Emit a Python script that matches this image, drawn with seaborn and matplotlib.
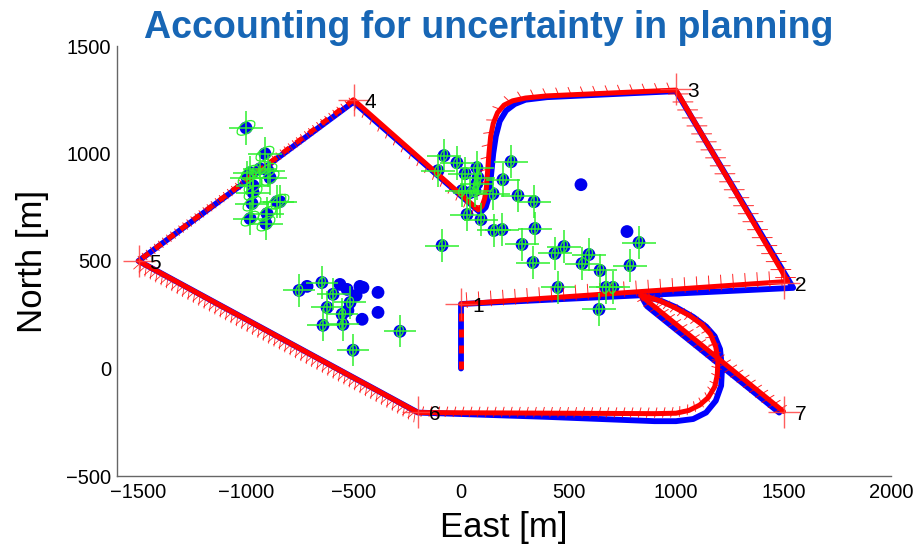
import numpy as np
import pandas as pd
import matplotlib
matplotlib.use('Agg')
import matplotlib.pyplot as plt
import matplotlib.patheffects as pe
from matplotlib.patches import Ellipse
import seaborn as sns

# %% Data (East / North in metres)

# planned path (red)
plan_e = [0, 0, 1520, 1000, 400, 300, 240, 200, 170, 150, 138, 130, 124, 118, 110, 98, 80,
          -500, -1500, -200, 900, 1000, 1060, 1110, 1150, 1180, 1192, 1195, 1185, 1160,
          1120, 1065, 990, 925, 870, 835, 1500]
plan_n = [0, 300, 405, 1295, 1268, 1258, 1245, 1225, 1190, 1140, 1080, 1000, 920, 840, 790, 755, 738,
          1250, 500, -205, -210, -208, -195, -170, -135, -85, -30, 38, 100, 160,
          205, 245, 285, 315, 333, 340, -200]

# flown path (blue)
flown_e = [0, 0, 1545, 1000, 400, 300, 250, 210, 180, 162, 150, 140, 130, 115, 90,
           -500, -1500, -200, 400, 900, 1000, 1080, 1140, 1185, 1210, 1214, 1205, 1180,
           1140, 1080, 1000, 930, 860, 845, 865, 1480]
flown_n = [0, 300, 375, 1290, 1262, 1250, 1230, 1200, 1150, 1080, 1000, 900, 800, 750, 725,
           1240, 500, -205, -225, -245, -245, -235, -205, -150, -80, 0, 90, 150,
           195, 240, 285, 315, 335, 325, 290, -205]

# waypoints
wp_label = ['1', '2', '3', '4', '5', '6', '7']
wp_e = [0, 1500, 1000, -500, -1500, -200, 1500]
wp_n = [300, 400, 1300, 1250, 500, -200, -200]

# landmarks - west cluster
west_e = [-1000, -912, -935, -898, -888, -981, -995, -967, -967, -972, -842, -856, -902, -981, -907]
west_n = [1119, 999, 929, 920, 887, 911, 887, 850, 818, 767, 776, 776, 720, 697, 674]
west_seen = [1] * 15

# landmarks - centre cluster
centre_e = [-79, -19, -107, 74, 19, 79, 74, 5, 42, 65, 149, 195, 233, 265, 340, 28, 93, 153,
            191, 344, -88, 284, 558, 335, 437, 479, 563, 595, 647, 451, 674, 707, 642, 772, 828, 786]
centre_n = [990, 957, 920, 934, 906, 887, 860, 827, 818, 827, 813, 878, 962, 804, 776, 716, 693, 642,
            646, 651, 572, 577, 855, 493, 535, 567, 488, 530, 456, 377, 377, 377, 275, 637, 586, 479]
centre_seen = [1, 1, 1, 1, 1, 1, 1, 1, 1, 1, 1, 1, 1, 1, 1, 1, 1, 1,
               1, 1, 1, 1, 0, 1, 1, 1, 1, 1, 1, 1, 1, 1, 1, 0, 1, 1]

# landmarks - south cluster
south_e = [-753, -716, -647, -563, -470, -456, -386, -595, -530, -488, -516, -623, -553, -526,
           -460, -386, -642, -549, -502, -284]
south_n = [363, 382, 400, 391, 382, 377, 354, 345, 368, 340, 307, 284, 252, 270,
           229, 261, 201, 205, 85, 173]
south_seen = [1, 0, 1, 0, 0, 0, 0, 1, 0, 0, 1, 1, 1, 0, 0, 0, 1, 1, 1, 1]

# landmark 1-sigma position error [m]
west_err = 78
centre_err = 78
south_err = 75

# %% Figure

sns.set_theme(style='white')
plt.rcParams['font.family'] = ['Liberation Sans', 'DejaVu Sans']
plt.rcParams['text.color'] = 'black'
plt.rcParams['axes.labelcolor'] = 'black'

fig = plt.figure(figsize=(9.19, 5.51), dpi=100)
ax = fig.add_axes([117 / 919, 1 - 476 / 551, 774 / 919, 430 / 551])

RED = '#ff0000'
BLUE = '#0000ff'
GREEN = '#2ef02e'

# landmarks
lm = pd.concat([
    pd.DataFrame({'e': west_e, 'n': west_n, 'seen': west_seen, 'err': west_err, 'grp': 'west'}),
    pd.DataFrame({'e': centre_e, 'n': centre_n, 'seen': centre_seen, 'err': centre_err, 'grp': 'centre'}),
    pd.DataFrame({'e': south_e, 'n': south_n, 'seen': south_seen, 'err': south_err, 'grp': 'south'}),
], ignore_index=True)

sns.scatterplot(data=lm, x='e', y='n', color='#0000ee', s=85, edgecolor='none',
                legend=False, ax=ax, zorder=2)

# flown path
sns.lineplot(x=flown_e, y=flown_n, sort=False, estimator=None, color=BLUE,
             lw=4.2, ax=ax, zorder=3, solid_joinstyle='round')

# planned path, dashed where the blue shows through
plan = pd.DataFrame({'e': plan_e, 'n': plan_n})
for seg, dashed in [(slice(0, 2), True), (slice(1, 18), False),
                    (slice(17, 19), True), (slice(18, 37), False)]:
    part = plan.iloc[seg]
    ax.plot(part.e, part.n, color=RED, lw=3.6, zorder=3.2,
            dashes=(1.6, 1.6) if dashed else (None, None),
            solid_capstyle='round', solid_joinstyle='round')

# covariance ellipses along the plan, drawn as ticks along the path
def cov_ticks(seg, spacing_px, specs, lw=0.7):
    effects = [pe.TickedStroke(spacing=spacing_px * 0.72, angle=a,
                               length=l / spacing_px, linewidth=lw)
               for a, l in specs]
    part = plan.iloc[seg]
    ax.plot(part.e, part.n, color=RED, lw=lw, alpha=0.85,
            path_effects=effects, zorder=3.1)

cov_ticks(slice(1, 3), 12, [(90, 11), (-90, 4)])
cov_ticks(slice(2, 4), 9, [(60, 10), (-120, 10)])
cov_ticks(slice(3, 17), 12, [(-70, 8)])
cov_ticks(slice(16, 18), 10, [(110, 8)])
cov_ticks(slice(17, 19), 5, [(90, 4), (-90, 4)])
cov_ticks(slice(18, 20), 6, [(-70, 11), (-110, 10)], lw=0.6)
cov_ticks(slice(19, 36), 8, [(75, 6), (-105, 4)])
cov_ticks(slice(35, 37), 8, [(70, 7), (-110, 7)])

# landmark uncertainty crosses and ellipses
seen = lm[lm.seen == 1]
ax.errorbar(seen.e, seen.n, xerr=seen.err, yerr=seen.err, fmt='none',
            ecolor=GREEN, elinewidth=1.1, capsize=0, zorder=4)
ell_style = {'west': (95, 50, 35), 'centre': (30, 55, -15), 'south': (30, 50, -15)}
for _, r in seen.iterrows():
    w, h, ang = ell_style[r.grp]
    ax.add_patch(Ellipse((r.e, r.n), w, h, angle=ang, fill=False,
                         ec=GREEN, lw=0.9, zorder=4))

# waypoints
ax.plot(wp_e, wp_n, ls='none', marker='+', ms=23, mew=1.0, color='#ff4040',
        alpha=0.85, zorder=5)
for lbl, e, n in zip(wp_label, wp_e, wp_n):
    ax.annotate(lbl, (e, n), xytext=(8, -2), textcoords='offset points',
                fontsize=15, ha='left', va='center', color='black', zorder=6)

# axes
ax.set_xlim(-1600, 2000)
ax.set_ylim(-500, 1500)
ax.set_xticks([-1500, -1000, -500, 0, 500, 1000, 1500, 2000])
ax.set_yticks([-500, 0, 500, 1000, 1500])
sns.despine(ax=ax)
for s in ['left', 'bottom']:
    ax.spines[s].set_color('#666666')
    ax.spines[s].set_linewidth(1.0)
ax.tick_params(direction='in', length=5, width=0.8, color='#555555',
               labelsize=14.5, labelcolor='black')
ax.tick_params(axis='x', pad=5)
ax.tick_params(axis='y', pad=4)

ax.set_xlabel('East [m]', fontsize=25, color='black')
ax.set_ylabel('North [m]', fontsize=25, color='black')
ax.xaxis.set_label_coords(0.5, -0.082)
ax.yaxis.set_label_coords(-0.088, 0.498)

fig.text(0.532, 1 - 38 / 551, 'Accounting for uncertainty in planning',
         ha='center', va='baseline', fontsize=27, fontweight='bold',
         color='#1766b5')

plt.savefig('out.png', dpi=100)
